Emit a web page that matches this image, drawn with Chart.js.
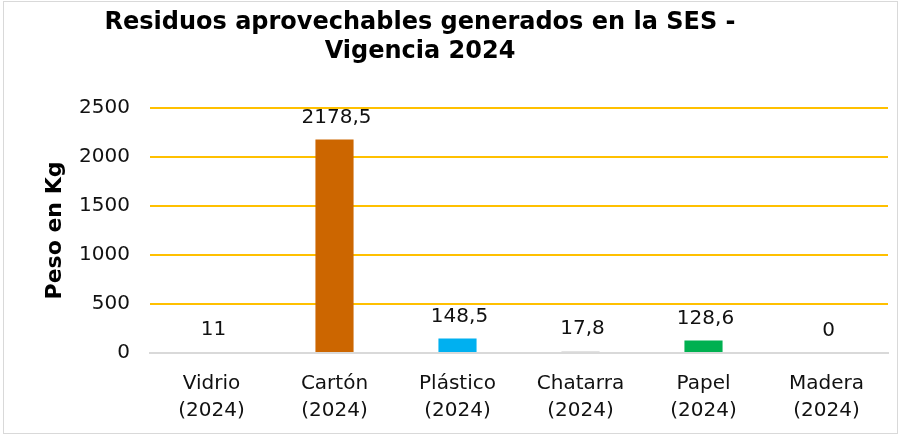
<!DOCTYPE html>
<html>
<head>
<meta charset="utf-8">
<script src="https://cdn.jsdelivr.net/npm/chart.js@4.4.1/dist/chart.umd.min.js"></script>
<style>
  html, body { margin: 0; padding: 0; background: #fff; }
  #wrap { width: 900px; height: 435px; position: relative; }
</style>
</head>
<body>
<div id="wrap"><canvas id="residuosChart"></canvas></div>
<script>
const categorias = [
    ['Vidrio', '(2024)'],
    ['Cartón', '(2024)'],
    ['Plástico', '(2024)'],
    ['Chatarra', '(2024)'],
    ['Papel', '(2024)'],
    ['Madera', '(2024)']
]
const pesoKg = [11, 2178.5, 148.5, 17.8, 128.6, 0]
const colores = ['#D9D9D9', '#CC6600', '#00B0F0', '#D9D9D9', '#00B050', '#D9D9D9']
const yTicks = [0, 500, 1000, 1500, 2000, 2500]
const titulo = ['Residuos aprovechables generados en la SES -', 'Vigencia 2024']

const FONT = "'DejaVu Sans', Verdana, sans-serif"

// etiquetas de valor encima de cada barra (coma decimal)
const valueLabels = {
    id: 'valueLabels',
    afterDatasetsDraw(chart) {
        const ctx = chart.ctx
        const meta = chart.getDatasetMeta(0)
        ctx.save()
        ctx.font = `20px ${FONT}`
        ctx.fillStyle = '#111'
        ctx.textAlign = 'center'
        ctx.textBaseline = 'middle'
        meta.data.forEach((bar, i) => {
            const txt = String(pesoKg[i]).replace('.', ',')
            ctx.fillText(txt, bar.x + 2, bar.y - 22)
        })
        ctx.restore()
    }
}

// fondo, borde y titulo (el titulo va algo a la izquierda del centro)
const frame = {
    id: 'frame',
    beforeDraw(chart) {
        const ctx = chart.ctx
        ctx.save()
        ctx.fillStyle = '#fff'
        ctx.fillRect(0, 0, chart.width, chart.height)
        ctx.strokeStyle = '#D9D9D9'
        ctx.lineWidth = 1
        ctx.strokeRect(3.5, 1.5, chart.width - 6, chart.height - 3)
        ctx.restore()
    },
    afterDraw(chart) {
        const ctx = chart.ctx
        ctx.save()
        ctx.font = `bold 24px ${FONT}`
        ctx.fillStyle = '#000'
        ctx.textAlign = 'center'
        ctx.textBaseline = 'middle'
        titulo.forEach((line, i) => ctx.fillText(line, 420, 23 + i * 29))
        ctx.restore()
    }
}

const data = {
    labels: categorias,
    datasets: [{
        label: 'Peso en Kg',
        data: pesoKg,
        backgroundColor: colores,
        borderWidth: 0,
        barPercentage: 0.31,
        categoryPercentage: 1
    }]
}

const config = {
    type: 'bar',
    data: data,
    plugins: [frame, valueLabels],
    options: {
        responsive: true,
        maintainAspectRatio: false,
        animation: false,
        layout: { padding: { left: 0, right: 12, top: 108, bottom: 0 } },
        plugins: {
            legend: { display: false },
            tooltip: { enabled: false }
        },
        scales: {
            x: {
                grid: { display: false, drawTicks: false },
                border: { display: true, color: '#D9D9D9', width: 2 },
                ticks: {
                    color: '#111',
                    font: { family: FONT, size: 20, lineHeight: 1.35 },
                    padding: 17,
                    maxRotation: 0,
                    autoSkip: false
                },
                afterFit: (scale) => { scale.height = 82 }
            },
            y: {
                min: 0,
                max: 2500,
                afterBuildTicks: (scale) => { scale.ticks = yTicks.map(v => ({ value: v })) },
                grid: {
                    drawTicks: false,
                    lineWidth: 2,
                    color: (c) => c.tick && c.tick.value === 0 ? '#D9D9D9' : '#FFC000'
                },
                border: { display: false },
                ticks: {
                    color: '#111',
                    font: { family: FONT, size: 20 },
                    padding: 20,
                    callback: (v) => String(v)
                },
                title: {
                    display: true,
                    text: 'Peso en Kg',
                    color: '#000',
                    font: { family: FONT, size: 22, weight: 'bold', lineHeight: 1.2 },
                    padding: { top: 42, bottom: 0 }
                },
                afterFit: (scale) => { scale.width = 150 }
            }
        }
    }
}

const residuosChart = new Chart(document.getElementById('residuosChart'), config)
</script>
</body>
</html>
